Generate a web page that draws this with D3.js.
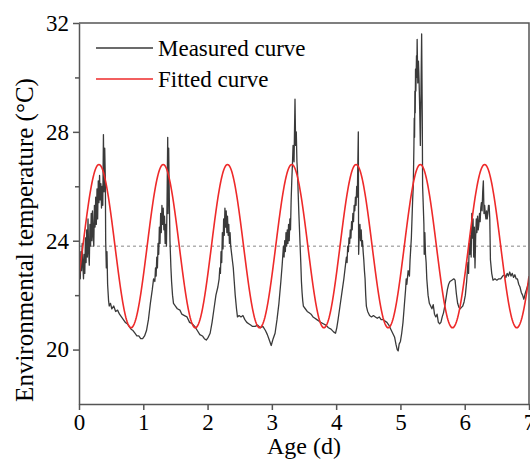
<!DOCTYPE html>
<meta charset="utf-8">
<style>
body{ margin:0; background:#fff; }
text{ font-family: "Liberation Serif", "Times New Roman", serif; fill:#000; }
.tick text{ font-size: 23px; }
.axis path, .axis line{ stroke:#555; }
</style>
<body>
<div id="chart"></div>
<script src="https://cdn.jsdelivr.net/npm/d3@7"></script>
<script>
// measured temperature, [age (d), T (°C)]
var measured = [
[0,22.8],[0.01,23.3],[0.02,22.6],[0.03,23.6],[0.04,22.9],[0.05,23.9],[0.06,23.1],[0.07,22.6],[0.08,23.5],[0.09,22.8],
[0.10,24.1],[0.11,23.2],[0.12,24.4],[0.13,23.4],[0.14,24.8],[0.15,23.6],[0.16,23.1],[0.17,24.6],[0.18,23.8],[0.19,25.0],
[0.20,24.0],[0.21,25.1],[0.22,24.2],[0.23,23.8],[0.24,25.3],[0.25,24.5],[0.26,25.6],[0.27,24.6],[0.28,25.9],[0.29,24.8],
[0.30,26.2],[0.31,25.4],[0.32,26.4],[0.33,25.5],[0.34,26.1],[0.35,25.2],[0.36,26.0],[0.37,25.3],[0.38,27.9],[0.39,25.8],
[0.40,27.4],[0.41,26.2],[0.415,24.0],[0.425,23.0],[0.435,23.6],[0.445,22.4],[0.46,21.8],[0.47,21.6],[0.49,21.7],[0.51,21.5],
[0.54,21.6],[0.57,21.4],[0.60,21.45],[0.63,21.3],[0.66,21.2],[0.69,21.1],[0.72,21.0],[0.75,20.95],[0.78,20.85],[0.81,20.75],
[0.84,20.7],[0.87,20.6],[0.90,20.5],[0.93,20.5],[0.96,20.4],[0.99,20.4],[1.02,20.5],[1.05,20.7],[1.08,21.1],[1.11,21.7],
[1.14,22.2],[1.16,22.6],[1.18,22.5],[1.19,23.0],[1.20,22.7],[1.21,23.4],[1.22,23.0],[1.23,23.9],[1.24,23.5],[1.25,24.5],
[1.26,23.9],[1.27,25.0],[1.28,24.3],[1.29,25.3],[1.30,24.6],[1.31,25.2],[1.32,24.4],[1.33,24.9],[1.34,23.9],[1.35,24.6],
[1.36,23.8],[1.37,25.5],[1.38,27.8],[1.385,25.0],[1.395,27.4],[1.405,25.5],[1.415,24.0],[1.43,23.0],[1.44,22.5],[1.455,22.0],
[1.47,21.7],[1.50,21.6],[1.53,21.5],[1.57,21.45],[1.60,21.3],[1.64,21.25],[1.68,21.2],[1.72,21.0],[1.76,20.95],[1.80,20.85],
[1.84,20.7],[1.88,20.55],[1.92,20.5],[1.95,20.4],[1.98,20.35],[2.01,20.45],[2.04,20.6],[2.07,21.0],[2.10,21.5],[2.13,22.0],
[2.16,22.3],[2.18,22.6],[2.19,23.0],[2.20,22.8],[2.21,23.6],[2.22,23.2],[2.23,24.3],[2.24,23.7],[2.25,24.8],[2.26,24.2],
[2.27,25.2],[2.28,24.5],[2.29,25.1],[2.30,24.3],[2.31,24.9],[2.32,24.2],[2.33,24.6],[2.34,23.9],[2.35,24.3],[2.36,23.8],
[2.375,23.5],[2.39,23.2],[2.40,23.0],[2.415,22.5],[2.43,22.0],[2.45,21.5],[2.465,21.2],[2.49,21.25],[2.52,21.2],[2.55,21.25],
[2.58,21.1],[2.61,21.0],[2.64,20.95],[2.67,20.9],[2.70,20.85],[2.74,20.85],[2.78,20.9],[2.82,20.8],[2.86,20.85],[2.90,20.7],
[2.93,20.55],[2.96,20.35],[2.99,20.15],[3.02,20.4],[3.05,20.6],[3.08,21.1],[3.11,21.7],[3.14,22.5],[3.16,23.1],[3.18,23.8],
[3.19,23.4],[3.20,24.0],[3.21,23.6],[3.22,24.3],[3.23,23.8],[3.24,24.4],[3.25,23.9],[3.26,24.6],[3.27,24.0],[3.28,24.8],
[3.29,24.4],[3.30,25.5],[3.31,26.2],[3.32,26.8],[3.33,27.5],[3.345,26.9],[3.36,29.2],[3.37,27.5],[3.38,28.0],[3.39,26.9],
[3.40,26.5],[3.41,25.7],[3.42,25.0],[3.43,24.4],[3.44,23.8],[3.45,23.2],[3.46,22.5],[3.47,22.1],[3.48,21.8],[3.49,21.6],
[3.52,21.5],[3.55,21.4],[3.58,21.35],[3.61,21.3],[3.64,21.2],[3.67,21.15],[3.70,21.1],[3.73,21.05],[3.76,21.0],[3.80,20.95],
[3.84,20.9],[3.88,20.8],[3.92,20.75],[3.96,20.65],[3.99,20.6],[4.01,20.8],[4.03,21.1],[4.06,21.6],[4.09,22.1],[4.12,22.6],
[4.14,23.0],[4.16,23.4],[4.17,23.2],[4.18,23.8],[4.19,23.6],[4.20,24.1],[4.21,23.9],[4.22,24.4],[4.23,24.1],[4.24,24.7],
[4.25,24.4],[4.26,25.0],[4.27,24.7],[4.28,25.3],[4.29,25.1],[4.30,25.6],[4.31,25.3],[4.32,26.0],[4.33,25.6],[4.335,26.5],
[4.345,28.0],[4.35,23.5],[4.36,24.3],[4.37,24.6],[4.38,24.0],[4.39,24.4],[4.40,23.8],[4.41,24.0],[4.42,23.6],[4.43,23.3],
[4.44,22.9],[4.45,22.6],[4.46,22.0],[4.47,21.6],[4.49,21.4],[4.52,21.25],[4.55,21.2],[4.58,21.25],[4.61,21.2],[4.64,21.15],
[4.67,21.2],[4.70,21.1],[4.73,21.1],[4.76,21.05],[4.79,21.0],[4.82,20.9],[4.85,20.75],[4.88,20.6],[4.91,20.45],[4.93,20.2],
[4.95,20.0],[4.965,19.95],[4.98,20.2],[5.00,20.3],[5.02,20.6],[5.04,21.0],[5.06,21.6],[5.08,22.2],[5.09,22.6],[5.10,22.4],
[5.12,22.9],[5.14,22.7],[5.15,23.3],[5.16,23.7],[5.17,24.1],[5.18,24.8],[5.19,25.5],[5.20,26.0],[5.21,27.5],[5.215,28.5],
[5.22,27.8],[5.225,29.5],[5.23,28.7],[5.235,30.3],[5.24,29.5],[5.25,30.8],[5.255,30.0],[5.26,31.4],[5.27,29.8],[5.28,30.6],
[5.29,29.9],[5.30,28.8],[5.31,27.5],[5.32,29.5],[5.33,31.6],[5.34,28.5],[5.345,26.0],[5.355,25.3],[5.365,24.6],[5.37,23.5],
[5.38,24.3],[5.39,23.5],[5.40,23.2],[5.41,22.6],[5.43,22.0],[5.45,21.7],[5.47,21.6],[5.49,21.5],[5.51,21.65],[5.53,21.3],
[5.55,21.2],[5.57,21.3],[5.59,21.0],[5.61,20.95],[5.63,21.0],[5.65,21.2],[5.67,21.35],[5.69,21.6],[5.71,21.9],[5.73,22.2],
[5.75,22.4],[5.77,22.5],[5.80,22.55],[5.83,22.6],[5.85,22.55],[5.86,22.3],[5.87,22.05],[5.89,21.7],[5.91,21.55],[5.93,21.5],
[5.95,21.55],[5.97,21.6],[5.99,21.75],[6.01,22.0],[6.03,22.5],[6.05,23.2],[6.06,22.8],[6.07,23.9],[6.08,23.5],[6.09,24.2],
[6.10,23.4],[6.11,25.0],[6.12,24.1],[6.13,24.8],[6.14,23.4],[6.15,24.5],[6.16,23.0],[6.17,24.1],[6.18,24.8],[6.19,24.3],
[6.20,24.9],[6.21,24.4],[6.22,24.6],[6.23,25.0],[6.24,24.7],[6.25,25.2],[6.26,25.4],[6.27,25.1],[6.28,25.8],[6.29,26.2],
[6.30,25.0],[6.31,25.3],[6.32,25.0],[6.33,24.8],[6.34,25.1],[6.35,24.8],[6.36,25.0],[6.37,25.3],[6.38,25.3],[6.39,24.8],
[6.40,23.3],[6.42,22.8],[6.44,22.55],[6.47,22.6],[6.50,22.55],[6.53,22.6],[6.56,22.6],[6.59,22.7],[6.62,22.75],[6.64,22.65],
[6.66,22.8],[6.68,22.7],[6.70,22.85],[6.72,22.7],[6.74,22.8],[6.76,22.65],[6.78,22.75],[6.80,22.6],[6.82,22.6],[6.84,22.4],
[6.86,22.3],[6.88,22.1],[6.90,22.0],[6.92,21.85],[6.94,22.05],[6.96,22.2],[6.98,22.35],[7.0,22.5]
];

// fitted sine: mean, amplitude, period (d), time of peak (d)
var fitParams = [23.8, 3.0, 1.0, 0.31];
var xTicks = [0, 1, 2, 3, 4, 5, 6, 7];
var yTicks = [20, 24, 28, 32];
var yMinor = [22, 26, 30];
var legendLabels = ["Measured curve", "Fitted curve"];

var width = 530, height = 461;
var margin = {top: 23, right: 1, bottom: 57, left: 79};

var svg = d3.select("#chart").append("svg").attr("width", width).attr("height", height);

var x = d3.scaleLinear().domain([0, 7]).range([margin.left, width - margin.right]);
var y = d3.scaleLinear().domain([18, 32]).range([height - margin.bottom, margin.top]);

// fitted curve sampled densely along the age axis
var fitted = d3.range(0, 7.0001, 0.01).map(function(t){
	return [t, fitParams[0] + fitParams[1] * Math.cos(2 * Math.PI * (t - fitParams[3]) / fitParams[2])];
});

var line = d3.line().x(function(d){ return x(d[0]); }).y(function(d){ return y(d[1]); });

svg.append("defs").append("clipPath").attr("id", "clip")
	.append("rect").attr("x", x(0)).attr("y", y(32)).attr("width", x(7) - x(0)).attr("height", y(18) - y(32));

// dashed mean line
svg.append("line")
	.attr("x1", x(0)).attr("x2", x(7))
	.attr("y1", y(fitParams[0])).attr("y2", y(fitParams[0]))
	.attr("stroke", "#888").attr("stroke-width", 1).attr("stroke-dasharray", "3,3");

var plot = svg.append("g").attr("clip-path", "url(#clip)");
plot.append("path").datum(measured).attr("d", line)
	.attr("fill", "none").attr("stroke", "#3a3a3a").attr("stroke-width", 1.3).attr("stroke-linejoin", "round");
plot.append("path").datum(fitted).attr("d", line)
	.attr("fill", "none").attr("stroke", "#ee2a2a").attr("stroke-width", 1.6);

// axes
svg.append("g").attr("class", "axis")
	.attr("transform", "translate(0," + y(18) + ")")
	.call(d3.axisBottom(x).tickValues(xTicks).tickFormat(d3.format("d")).tickSize(6).tickSizeOuter(0).tickPadding(4))
	.call(function(g){ g.selectAll("line, path").attr("stroke-width", 1.5); });

svg.append("g").attr("class", "axis")
	.attr("transform", "translate(" + x(0) + ",0)")
	.call(d3.axisLeft(y).tickValues(yTicks).tickSize(6).tickSizeOuter(0).tickPadding(4))
	.call(function(g){ g.selectAll("line, path").attr("stroke-width", 1.5); });

svg.append("g").attr("class", "axis")
	.attr("transform", "translate(" + x(0) + ",0)")
	.call(d3.axisLeft(y).tickValues(yMinor).tickSize(4).tickSizeOuter(0).tickFormat(""))
	.call(function(g){ g.select("path").remove(); g.selectAll("line").attr("stroke-width", 1.5); });

// top and right frame
svg.append("path")
	.attr("d", "M" + x(0) + "," + y(32) + "H" + x(7) + "V" + y(18))
	.attr("fill", "none").attr("stroke", "#555").attr("stroke-width", 1.5);

// axis titles
svg.append("text")
	.attr("x", (x(0) + x(7)) / 2).attr("y", 454)
	.attr("text-anchor", "middle").style("font-size", "24px")
	.text("Age (d)");

svg.append("text")
	.attr("transform", "translate(33," + 240 + ") rotate(-90)")
	.attr("text-anchor", "middle").style("font-size", "25px")
	.text("Environmental temperature (°C)");

// legend
var legendColors = ["#3a3a3a", "#ee2a2a"];
var lg = svg.selectAll(".legend").data(legendLabels).enter().append("g").attr("class", "legend")
	.attr("transform", function(d, i){ return "translate(96," + (48 + i * 31) + ")"; });
lg.append("line").attr("x1", 0).attr("x2", 57).attr("y1", 0).attr("y2", 0)
	.attr("stroke", function(d, i){ return legendColors[i]; }).attr("stroke-width", 1.6);
lg.append("text").attr("x", 62).attr("y", 8).style("font-size", "23px").text(function(d){ return d; });
</script>
</body>
